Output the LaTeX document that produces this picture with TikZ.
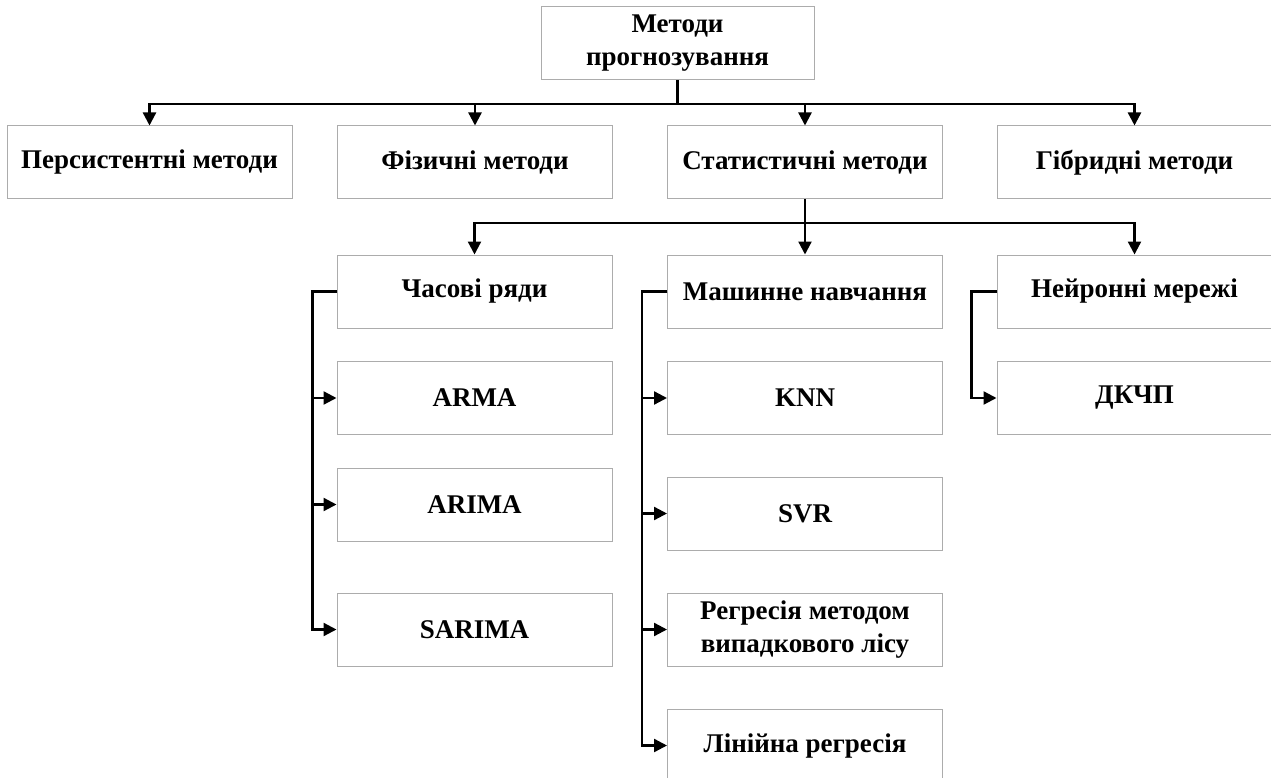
\documentclass[tikz,border=0pt]{standalone}
\usepackage{fontspec}
\setmainfont{Liberation Serif}
\usepackage{tikz}
\usetikzlibrary{arrows.meta, positioning}
\tikzstyle{box}=[draw=gray!65,line width=1pt,rectangle,minimum width=275pt,minimum height=73pt,inner sep=2pt,align=center,font=\bfseries\fontsize{27}{33}\selectfont]
\tikzstyle{arrow}=[line width=2.3pt,->,>={Triangle[length=13pt,width=13pt]}]

\begin{document}
\begin{tikzpicture}[x=1pt,y=-1pt]
    \useasboundingbox (0,0) rectangle (1271,778);
    \node[box, minimum width=273pt] (top) at (677.5,43.5) {Методи\\прогнозування};
    \node[box, minimum width=285pt] (pers) at (149.5,162.5) {Персистентні методи};
    \node[box] (fiz) at (475,162.5) {Фізичні методи};
    \node[box] (stat) at (805,162.5) {Статистичні методи};
    \node[box] (hybr) at (1134.5,162.5) {Гібридні методи};
    \node[box] (chas) at (474.5,291.5) {Часові ряди};
    \node[box] (mash) at (805,291.5) {Машинне навчання};
    \node[box] (neur) at (1134.5,291.5) {Нейронні мережі};
    \node[box] (arma) at (474.5,398) {ARMA};
    \node[box] (arima) at (474.5,504.5) {ARIMA};
    \node[box] (sarima) at (474.5,629.5) {SARIMA};
    \node[box] (knn) at (805,398) {KNN};
    \node[box] (svr) at (805,513.5) {SVR};
    \node[box] (rf) at (805,629.5) {Регресія методом\\випадкового лісу};
    \node[box] (lin) at (805,745.5) {Лінійна регресія};
    \node[box] (dkchp) at (1134.5,398) {ДКЧП};
    \coordinate (bus1) at (0,104);
    \coordinate (bus2) at (0,223);

    \draw[arrow] (top.south) |- (pers.north |- bus1) -- (pers.north);
    \draw[arrow] (top.south) |- (fiz.north |- bus1) -- (fiz.north);
    \draw[arrow] (top.south) |- (stat.north |- bus1) -- (stat.north);
    \draw[arrow] (top.south) |- (hybr.north |- bus1) -- (hybr.north);
    \draw[arrow] (stat.south) |- (chas.north |- bus2) -- (chas.north);
    \draw[arrow] (stat.south) -- (mash.north);
    \draw[arrow] (stat.south) |- (neur.north |- bus2) -- (neur.north);
    \draw[arrow] (chas.west) -- ++(-24,0) |- (arma.west);
    \draw[arrow] (chas.west) -- ++(-24,0) |- (arima.west);
    \draw[arrow] (chas.west) -- ++(-24,0) |- (sarima.west);
    \draw[arrow] (mash.west) -- ++(-25,0) |- (knn.west);
    \draw[arrow] (mash.west) -- ++(-25,0) |- (svr.west);
    \draw[arrow] (mash.west) -- ++(-25,0) |- (rf.west);
    \draw[arrow] (mash.west) -- ++(-25,0) |- (lin.west);
    \draw[arrow] (neur.west) -- ++(-25,0) |- (dkchp.west);
\end{tikzpicture}
\end{document}
